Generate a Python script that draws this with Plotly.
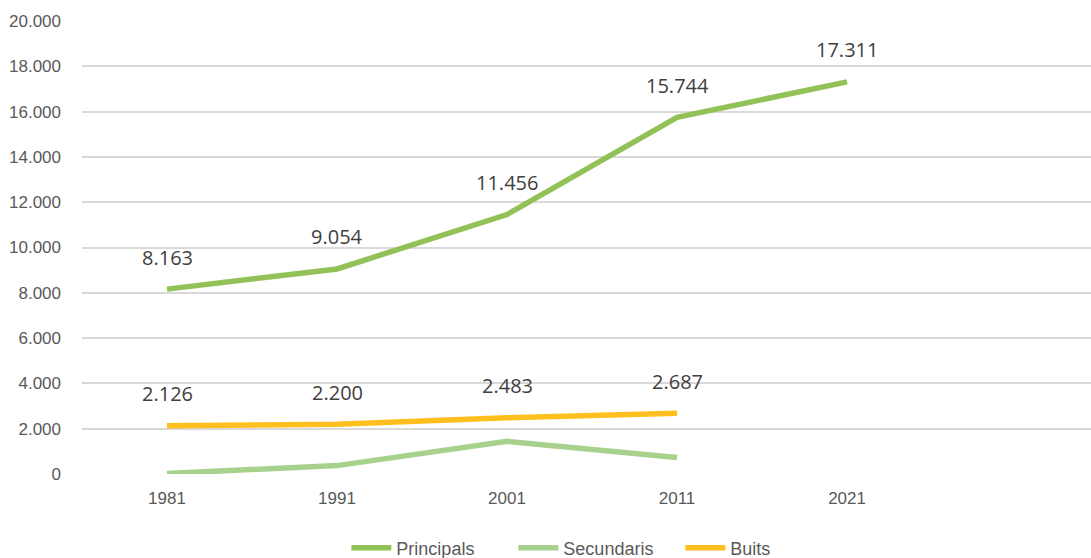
import plotly.graph_objects as go

# Census years and household counts
years = ["1981", "1991", "2001", "2011", "2021"]
principals = [8163, 9054, 11456, 15744, 17311]
secundaris = [25, 370, 1440, 730]
buits = [2126, 2200, 2483, 2687]

y_ticks = [0, 2000, 4000, 6000, 8000, 10000, 12000, 14000, 16000, 18000, 20000]
y_tick_text = ["0", "2.000", "4.000", "6.000", "8.000", "10.000",
               "12.000", "14.000", "16.000", "18.000", "20.000"]

GREEN = "#92C257"
LIGHT_GREEN = "#A9D18E"
GOLD = "#FFC01F"
AXIS_FONT = "Liberation Sans, Arial, sans-serif"
LABEL_FONT = "Open Sans, Segoe UI, sans-serif"


def fmt(v):
    return f"{v:,}".replace(",", ".")


fig = go.Figure()
series = [
    ("Principals", principals, GREEN),
    ("Secundaris", secundaris, LIGHT_GREEN),
    ("Buits", buits, GOLD),
]
for name, vals, color in series:
    fig.add_trace(go.Scatter(
        x=list(range(len(vals))), y=vals, name=name, mode="lines",
        line=dict(color=color, width=5.5),
        hoverinfo="skip",
    ))

# Value labels above the Principals and Buits lines
for vals in (principals, buits):
    for i, v in enumerate(vals):
        fig.add_annotation(
            x=i, y=v, text=fmt(v), showarrow=False, yshift=32,
            font=dict(family=LABEL_FONT, size=20, color="#404040"),
        )

fig.update_layout(
    width=1091, height=558,
    margin=dict(l=82, r=0, t=21, b=84),
    plot_bgcolor="white", paper_bgcolor="white",
    showlegend=True,
    legend=dict(
        orientation="h", x=0.262, xanchor="left",
        yref="container", y=0.018, yanchor="middle",
        font=dict(family=AXIS_FONT, size=18, color="#595959"),
        itemwidth=40, entrywidth=112,
        bgcolor="rgba(0,0,0,0)",
    ),
    xaxis=dict(
        range=[-0.5, 5.435],
        tickmode="array", tickvals=list(range(len(years))), ticktext=years,
        showgrid=False, zeroline=False, showline=False,
        ticks="", ticklabelstandoff=12,
        tickfont=dict(family=AXIS_FONT, size=17, color="#595959"),
    ),
    yaxis=dict(
        range=[0, 20000],
        tickmode="array", tickvals=y_ticks, ticktext=y_tick_text,
        showgrid=True, gridcolor="#D9D9D9", gridwidth=1.5,
        zeroline=False, showline=False, ticks="", ticklabelstandoff=20,
        tickfont=dict(family=AXIS_FONT, size=17, color="#595959"),
    ),
)

fig.write_html("out.html")
